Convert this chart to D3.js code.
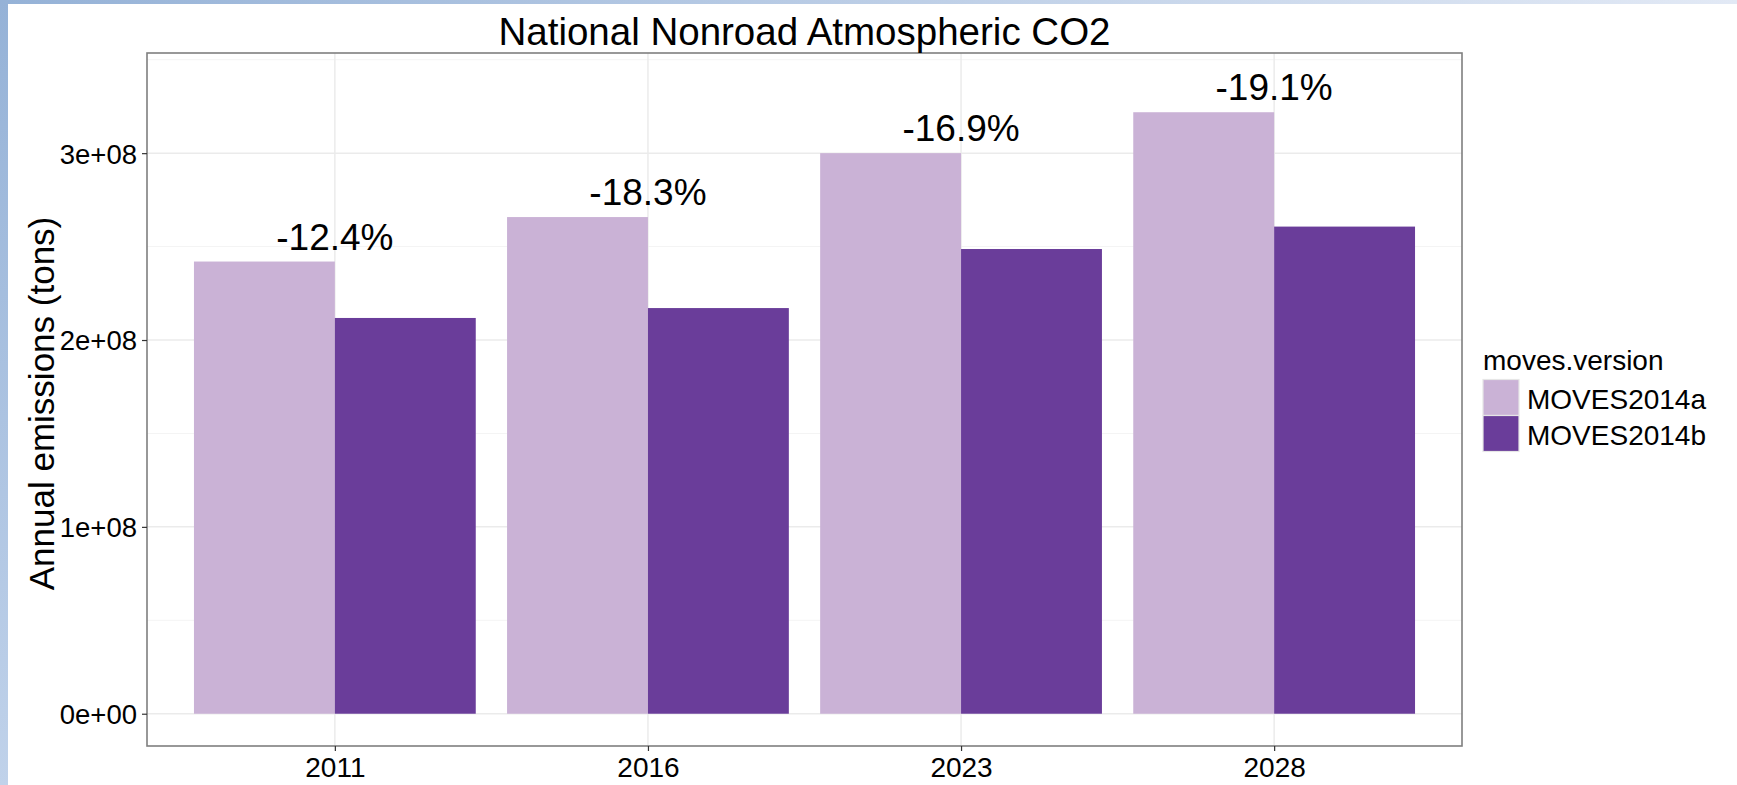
<!DOCTYPE html>
<html>
<head>
<meta charset="utf-8">
<script src="https://cdn.jsdelivr.net/npm/d3@7"></script>
<style>
  body { margin: 0; background: #fff; }
  text { font-family: "Liberation Sans", Arial, sans-serif; fill: #000; }
</style>
</head>
<body>
<div id="chart"></div>
<script>
// data
const years = ["2011", "2016", "2023", "2028"];
const versions = ["MOVES2014a", "MOVES2014b"];
const moves2014a = [2.420e8, 2.658e8, 3.000e8, 3.219e8];
const moves2014b = [2.118e8, 2.171e8, 2.487e8, 2.607e8];
const pctLabels = ["-12.4%", "-18.3%", "-16.9%", "-19.1%"];
const yTicks = [0, 1e8, 2e8, 3e8];
const yMinor = [0.5e8, 1.5e8, 2.5e8, 3.5e8];
const yTickLabels = ["0e+00", "1e+08", "2e+08", "3e+08"];

// set the dimensions and margins of the graph
const W = 1737, H = 785;
const panel = { left: 147, right: 1462, top: 53, bottom: 746 };

const svg = d3.select("#chart")
    .append("svg")
    .attr("width", W)
    .attr("height", H);

// slide-ish frame: blue strips on the left and top
const defs = svg.append("defs");
const gTop = defs.append("linearGradient").attr("id", "gTop");
gTop.append("stop").attr("offset", "0%").attr("stop-color", "#95b2d7");
gTop.append("stop").attr("offset", "100%").attr("stop-color", "#e2e9f5");
const gLeft = defs.append("linearGradient").attr("id", "gLeft")
    .attr("x1", 0).attr("y1", 0).attr("x2", 0).attr("y2", 1);
gLeft.append("stop").attr("offset", "0%").attr("stop-color", "#95b2d7");
gLeft.append("stop").attr("offset", "100%").attr("stop-color", "#c0d2ea");

svg.append("rect").attr("x", 0).attr("y", 0).attr("width", W).attr("height", 4)
    .attr("fill", "url(#gTop)");
svg.append("rect").attr("x", 0).attr("y", 0).attr("width", 8).attr("height", H)
    .attr("fill", "url(#gLeft)");

// scales
const x = d3.scalePoint()
    .domain(years)
    .range([panel.left, panel.right])
    .padding(0.6);
const step = x.step();

const xSub = d3.scaleBand()
    .domain(versions)
    .range([-0.45 * step, 0.45 * step]);

const y = d3.scaleLinear()
    .domain([-0.1727e8, 3.536e8])
    .range([panel.bottom, panel.top]);

const color = d3.scaleOrdinal()
    .domain(versions)
    .range(["#cab2d6", "#6a3d9a"]);

//////////
// GRID //
//////////

svg.append("g")
    .selectAll("line")
    .data(yMinor)
    .join("line")
    .attr("x1", panel.left).attr("x2", panel.right)
    .attr("y1", d => y(d)).attr("y2", d => y(d))
    .attr("stroke", "#f4f4f4")
    .attr("stroke-width", 1);

svg.append("g")
    .selectAll("line")
    .data(yTicks)
    .join("line")
    .attr("x1", panel.left).attr("x2", panel.right)
    .attr("y1", d => y(d)).attr("y2", d => y(d))
    .attr("stroke", "#ebebeb")
    .attr("stroke-width", 1.5);

svg.append("g")
    .selectAll("line")
    .data(years)
    .join("line")
    .attr("x1", d => x(d)).attr("x2", d => x(d))
    .attr("y1", panel.top).attr("y2", panel.bottom)
    .attr("stroke", "#ebebeb")
    .attr("stroke-width", 1.5);

//////////
// BARS //
//////////

const rows = years.map((yr, i) => ({
    year: yr,
    values: [
        { key: versions[0], value: moves2014a[i] },
        { key: versions[1], value: moves2014b[i] }
    ],
    label: pctLabels[i]
}));

const groups = svg.append("g")
    .selectAll("g")
    .data(rows)
    .join("g")
    .attr("transform", d => `translate(${x(d.year)},0)`);

groups.selectAll("rect")
    .data(d => d.values)
    .join("rect")
    .attr("x", d => xSub(d.key))
    .attr("width", xSub.bandwidth())
    .attr("y", d => y(d.value))
    .attr("height", d => y(0) - y(d.value))
    .attr("fill", d => color(d.key));

// percent change labels above the first bar of each pair
groups.append("text")
    .attr("x", 0)
    .attr("y", d => y(d.values[0].value) - 12)
    .attr("text-anchor", "middle")
    .style("font-size", "37px")
    .text(d => d.label);

// panel border
svg.append("rect")
    .attr("x", panel.left).attr("y", panel.top)
    .attr("width", panel.right - panel.left)
    .attr("height", panel.bottom - panel.top)
    .attr("fill", "none")
    .attr("stroke", "#7f7f7f")
    .attr("stroke-width", 1.6);

//////////
// AXIS //
//////////

const yAxis = svg.append("g")
    .attr("transform", `translate(${panel.left},0)`)
    .call(d3.axisLeft(y).tickValues(yTicks).tickSize(5).tickPadding(5)
        .tickFormat((d, i) => yTickLabels[i]));
yAxis.select(".domain").remove();
yAxis.selectAll("line").attr("stroke", "#333").attr("stroke-width", 1.2);
yAxis.selectAll("text")
    .style("font-size", "27.5px")
    .style("font-family", "'Liberation Sans', Arial, sans-serif")
    .attr("fill", "#000")
    .attr("dy", "0.36em");

const xAxis = svg.append("g")
    .attr("transform", `translate(0,${panel.bottom})`)
    .call(d3.axisBottom(x).tickSize(5).tickPadding(6));
xAxis.select(".domain").remove();
xAxis.selectAll("line").attr("stroke", "#333").attr("stroke-width", 1.2);
xAxis.selectAll("text")
    .style("font-size", "28px")
    .style("font-family", "'Liberation Sans', Arial, sans-serif")
    .attr("fill", "#000")
    .attr("dy", "0.72em");

// title
svg.append("text")
    .attr("x", (panel.left + panel.right) / 2)
    .attr("y", 44.5)
    .attr("text-anchor", "middle")
    .style("font-size", "38.5px")
    .text("National Nonroad Atmospheric CO2");

// y axis label
svg.append("text")
    .attr("transform", `translate(54,${(panel.top + panel.bottom) / 2 + 4}) rotate(-90)`)
    .attr("text-anchor", "middle")
    .style("font-size", "35px")
    .text("Annual emissions (tons)");

////////////
// LEGEND //
////////////

const legend = svg.append("g").attr("transform", "translate(1483,0)");
legend.append("text")
    .attr("x", 0).attr("y", 370)
    .style("font-size", "28px")
    .text("moves.version");

const size = 36;
legend.selectAll("rect")
    .data(versions)
    .join("rect")
    .attr("x", 0)
    .attr("y", (d, i) => 379.5 + i * size)
    .attr("width", size)
    .attr("height", size)
    .attr("fill", d => color(d))
    .attr("stroke", "#e6e6e6")
    .attr("stroke-width", 1.2);

legend.selectAll(".lab")
    .data(versions)
    .join("text")
    .attr("class", "lab")
    .attr("x", size + 8)
    .attr("y", (d, i) => 409 + i * size)
    .style("font-size", "28px")
    .text(d => d);
</script>
</body>
</html>
